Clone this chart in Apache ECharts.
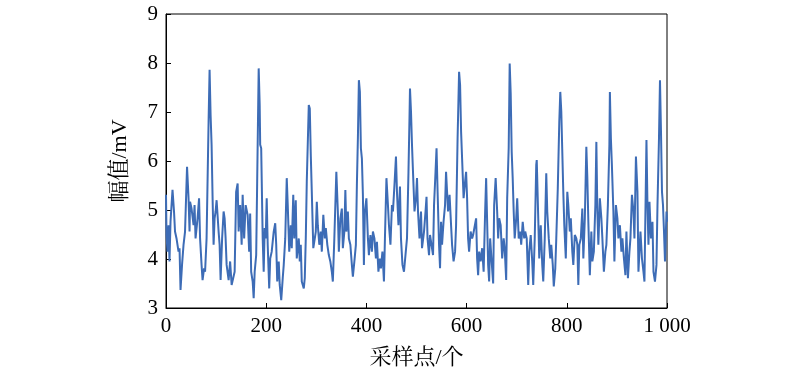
<!DOCTYPE html>
<html><head><meta charset="utf-8">
<script src="https://cdn.jsdelivr.net/npm/echarts@6/dist/echarts.min.js"></script>
<style>html,body{margin:0;padding:0;background:#fff}#c{width:800px;height:377px}</style>
</head><body><div id="c"></div>
<script>
const sampleIdx = [0,1,3,5,7,9,13,16,18,21,25,27,29,32,35,38,42,45,47,48,51,55,57,59,63,66,68,71,73,76,78,81,85,87,89,91,93,95,97,99,101,105,107,109,112,115,117,119,121,125,128,131,134,137,140,143,145,148,151,153,156,159,163,166,168,170,173,175,177,180,182,185,187,188,190,193,195,197,199,201,203,206,208,211,215,218,220,222,225,227,230,233,235,238,241,243,246,249,251,254,256,259,261,265,267,269,271,275,277,279,281,285,287,289,291,294,297,299,301,303,306,309,311,314,317,319,322,325,328,331,333,336,340,343,345,348,351,353,356,358,360,363,365,368,371,373,376,379,381,383,385,387,389,391,393,395,397,400,403,405,408,411,413,416,419,421,424,427,429,432,435,437,440,443,445,448,451,453,456,459,461,464,467,469,472,475,478,481,484,486,487,489,491,493,496,499,501,503,506,509,511,515,518,520,522,525,527,530,533,535,538,540,542,545,547,549,551,554,557,559,561,563,566,569,571,574,577,579,582,585,587,589,591,594,597,599,601,603,605,608,611,613,616,619,621,623,625,628,631,634,637,639,641,643,645,647,650,653,655,658,661,663,665,668,671,674,676,679,681,684,686,688,690,692,694,696,699,701,704,707,709,712,715,717,720,723,725,728,731,733,736,739,740,743,745,748,751,753,756,759,761,764,767,769,772,774,777,779,782,785,787,789,791,793,795,798,801,803,806,808,811,813,816,819,821,823,825,828,831,833,836,839,841,843,846,849,851,854,857,859,861,863,866,869,871,874,877,879,882,885,886,888,890,893,895,898,901,903,906,909,911,914,917,919,922,925,927,930,933,935,938,941,943,945,947,950,953,955,959,961,963,965,968,971,973,976,979,981,984,986,988,990,992,994,996,999,1000];
const amplitude = [5.31,4.49,4.15,4.69,3.95,4.76,5.41,4.97,4.56,4.42,4.15,4.22,3.37,3.88,4.29,4.56,5.88,5.24,4.56,5.17,5.03,4.69,5.10,4.42,4.83,5.24,4.42,3.88,3.57,3.81,3.74,4.42,6.80,7.86,6.94,6.33,5.24,4.29,4.83,4.97,5.20,4.56,4.29,3.57,4.42,4.97,4.83,4.42,3.88,3.57,3.95,3.47,3.44,3.74,5.37,5.54,4.56,5.10,4.29,5.31,4.42,5.10,4.90,4.15,4.93,3.74,3.54,3.20,3.74,4.08,5.58,7.89,7.14,6.33,6.26,4.42,3.74,4.63,4.42,5.24,4.29,3.40,4.01,4.15,4.56,4.73,4.29,3.54,3.95,3.47,3.16,3.61,3.88,4.42,5.65,5.10,4.15,4.69,4.22,5.31,4.42,5.20,4.01,4.42,3.95,4.29,3.54,3.40,3.61,4.42,5.58,7.14,7.07,6.12,5.37,4.22,4.42,4.56,5.17,4.69,4.29,4.56,4.15,4.90,4.42,4.63,4.29,4.08,3.95,3.74,3.54,4.42,5.78,4.97,4.15,4.83,5.03,4.22,4.56,5.41,4.56,4.97,4.42,4.29,3.88,3.64,3.95,4.29,5.51,6.46,7.65,7.41,6.26,6.05,5.31,3.88,4.97,5.24,4.42,4.08,4.49,4.15,4.56,4.42,4.01,4.35,3.74,4.01,3.81,4.15,3.54,4.42,5.65,5.10,4.69,4.29,5.10,4.97,5.51,6.09,5.37,4.69,5.48,4.42,3.88,3.74,3.71,4.42,5.78,6.87,7.48,7.01,6.33,5.78,4.97,5.24,5.65,4.97,4.42,4.97,4.22,4.56,4.97,5.27,4.42,4.08,4.49,4.49,4.08,5.10,5.78,6.26,5.41,4.29,3.81,4.76,4.29,4.76,5.10,5.78,5.37,4.97,5.31,4.69,4.29,3.95,4.15,4.69,6.46,7.82,7.55,6.60,6.05,5.24,5.58,5.78,5.24,4.42,4.15,4.56,4.42,4.49,4.49,4.83,4.01,3.67,4.15,3.95,4.22,3.74,4.97,5.65,4.76,3.88,3.54,4.42,3.95,3.50,5.10,5.65,4.97,4.42,4.83,4.69,4.01,4.42,4.22,3.57,5.24,6.26,7.99,7.38,6.19,5.65,4.97,4.42,4.83,5.24,4.42,4.56,4.29,4.76,4.42,4.56,4.42,3.47,4.15,4.49,3.95,3.47,4.42,5.92,6.02,4.83,4.01,4.69,3.88,3.54,4.42,5.75,4.97,4.42,4.01,4.29,3.88,3.44,3.81,4.42,5.44,6.80,7.41,7.01,6.19,5.37,4.69,4.01,5.37,5.10,4.56,4.83,4.15,3.88,4.49,4.42,4.29,3.47,4.29,4.42,5.03,4.01,4.83,6.29,5.65,4.76,3.67,4.56,3.95,4.15,5.10,6.39,4.97,4.29,5.24,4.83,4.42,3.74,4.15,4.29,5.10,6.33,7.41,6.46,5.92,4.97,3.95,5.10,4.83,4.42,4.69,4.15,4.42,4.01,3.67,4.56,3.61,4.15,4.42,5.31,4.97,4.42,6.09,5.37,3.74,4.15,4.56,4.01,3.74,3.54,6.43,5.10,4.29,5.17,4.42,4.76,3.74,3.54,3.88,5.10,6.46,7.65,6.60,5.37,5.10,4.56,3.95,4.97,4.76];
const xTicks = [0,200,400,600,800,1000];
const xTickLabels = ['0','200','400','600','800','1 000'];
const yTicks = [3,4,5,6,7,8,9];

const data = sampleIdx.map((s,i)=>[s, amplitude[i]]);
const font = '"Liberation Serif","Times New Roman","Noto Serif CJK SC","Noto Sans CJK SC",serif';
const chart = echarts.init(document.getElementById('c'), null, {renderer:'canvas'});
chart.setOption({
  animation:false,
  backgroundColor:'#fff',
  grid:{left:166,right:133,top:14,bottom:69,show:true,borderColor:'#000',borderWidth:1,backgroundColor:'transparent'},
  xAxis:{
    type:'value',min:0,max:1000,interval:200,
    name:'采样点/个',nameLocation:'middle',nameGap:39,
    nameTextStyle:{fontFamily:font,fontSize:22,color:'#000'},
    axisLine:{show:true,lineStyle:{color:'#000',width:1}},
    axisTick:{show:true,inside:true,length:5,lineStyle:{color:'#000'}},
    axisLabel:{fontFamily:font,fontSize:21,color:'#000',margin:8,
      formatter:v=>{const i=xTicks.indexOf(v);return i>=0?xTickLabels[i]:'';}},
    splitLine:{show:false}
  },
  yAxis:{
    type:'value',min:yTicks[0],max:yTicks[yTicks.length-1],interval:1,
    name:'幅值/mV',nameLocation:'middle',nameGap:35,
    nameTextStyle:{fontFamily:font,fontSize:22,color:'#000'},
    axisLine:{show:true,lineStyle:{color:'#000',width:1}},
    axisTick:{show:true,inside:true,length:5,lineStyle:{color:'#000'}},
    axisLabel:{fontFamily:font,fontSize:21,color:'#000',margin:8},
    splitLine:{show:false}
  },
  series:[{type:'line',data:data,showSymbol:false,symbol:'none',
    lineStyle:{color:'#3d6cb6',width:2},itemStyle:{color:'#3d6cb6'}}]
});
</script></body></html>
